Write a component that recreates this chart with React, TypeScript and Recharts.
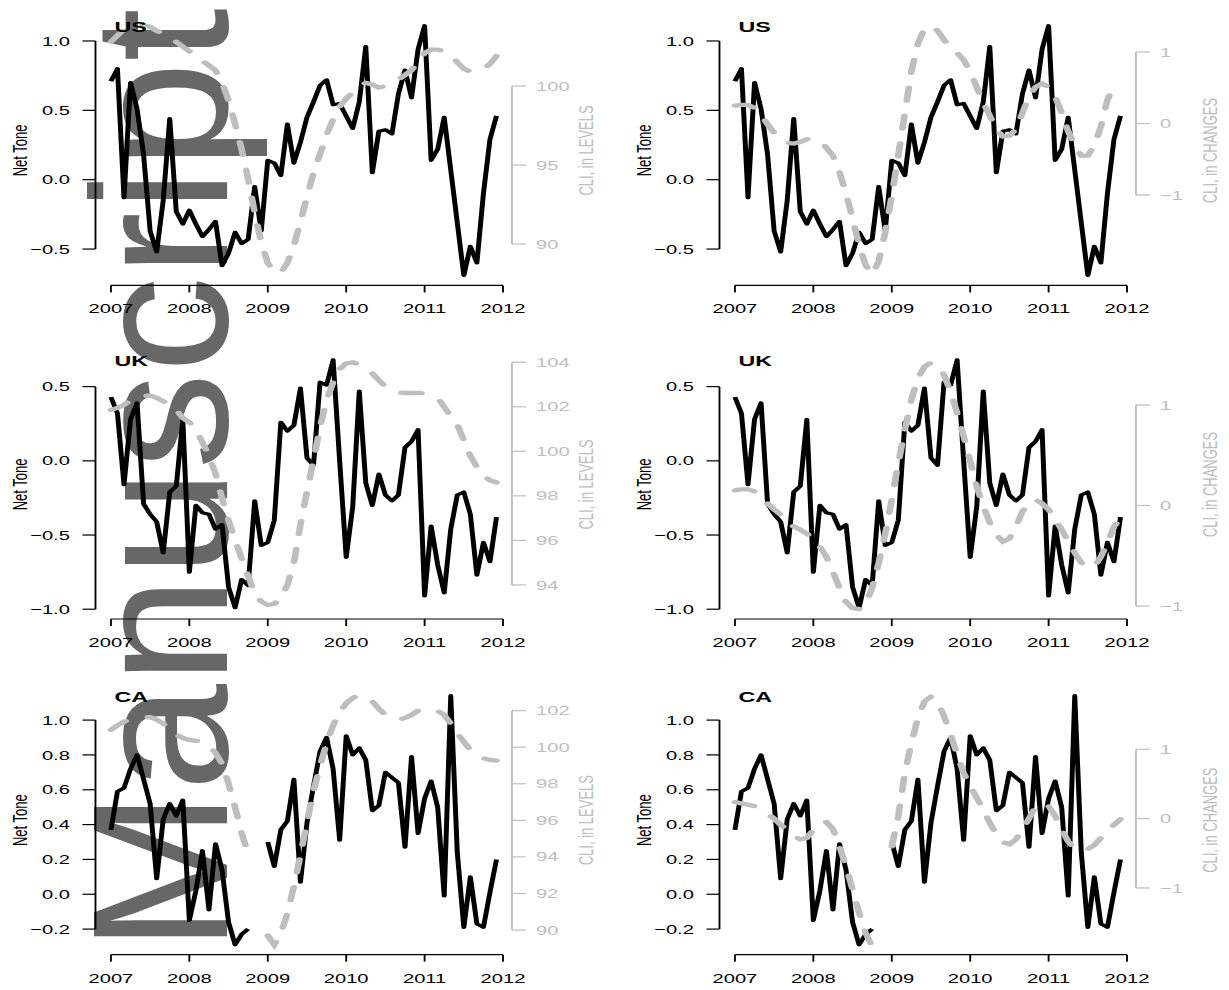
import React from 'react';
import { ComposedChart, Line, XAxis, YAxis, ReferenceLine } from 'recharts';

// ---------- data ----------
const START_YEAR = 2007;
const MONTH_COUNT = 60;
const TIME = Array.from({ length: MONTH_COUNT }, (_, i) => START_YEAR + i / 12);
const YEAR_TICKS = [2007, 2008, 2009, 2010, 2011, 2012];

const US_TONE = [
  0.71, 0.80, -0.13, 0.70, 0.51, 0.18, -0.37, -0.52, -0.15, 0.44,
  -0.23, -0.32, -0.22, -0.32, -0.41, -0.36, -0.30, -0.62, -0.53, -0.38,
  -0.46, -0.43, -0.05, -0.37, 0.14, 0.12, 0.03, 0.40, 0.12, 0.27,
  0.45, 0.56, 0.68, 0.72, 0.54, 0.55, 0.46, 0.37, 0.56, 0.96,
  0.05, 0.35, 0.36, 0.33, 0.62, 0.79, 0.59, 0.94, 1.11, 0.14,
  0.22, 0.45, 0.07, -0.31, -0.69, -0.48, -0.60, -0.10, 0.29, 0.46,
];
const UK_TONE = [
  0.43, 0.32, -0.16, 0.28, 0.39, -0.29, -0.36, -0.41, -0.62, -0.21,
  -0.17, 0.28, -0.75, -0.30, -0.35, -0.36, -0.46, -0.43, -0.85, -0.99,
  -0.80, -0.84, -0.27, -0.57, -0.55, -0.40, 0.26, 0.20, 0.24, 0.49,
  0.02, -0.03, 0.53, 0.51, 0.68, 0.00, -0.65, -0.31, 0.47, -0.15,
  -0.30, -0.09, -0.23, -0.27, -0.23, 0.09, 0.13, 0.21, -0.91, -0.44,
  -0.70, -0.89, -0.46, -0.23, -0.21, -0.36, -0.77, -0.55, -0.68, -0.38,
];
const CA_TONE = [
  0.37, 0.59, 0.61, 0.72, 0.80, 0.66, 0.52, 0.09, 0.43, 0.52,
  0.45, 0.54, -0.15, 0.02, 0.25, -0.09, 0.29, 0.14, -0.16, -0.29,
  -0.23, -0.20, null, null, 0.30, 0.16, 0.37, 0.42, 0.66, 0.07,
  0.41, 0.62, 0.82, 0.90, 0.72, 0.31, 0.91, 0.80, 0.84, 0.77,
  0.48, 0.51, 0.70, 0.67, 0.64, 0.27, 0.79, 0.35, 0.55, 0.65,
  0.50, -0.01, 1.14, 0.24, -0.19, 0.10, -0.17, -0.19, 0.01, 0.20,
];

const US_LEVEL = [
  102.8, 103.2, 103.6, 103.8, 103.85, 103.85, 103.75, 103.5, 103.3, 103.1,
  102.8, 102.5, 102.2, 102.0, 101.6, 101.3, 101.0, 100.2, 99.1, 97.6,
  96.0, 94.1, 92.0, 90.1, 88.8, 88.2, 88.2, 88.8, 89.9, 91.4,
  93.0, 94.5, 95.7, 96.9, 97.9, 98.7, 99.2, 99.6, 100.0, 100.2,
  100.1, 99.9, 100.0, 100.2, 100.4, 100.7, 101.0, 101.5, 102.1, 102.3,
  102.3, 102.2, 102.0, 101.5, 101.1, 100.9, 100.9, 101.1, 101.4, 101.9,
];
const UK_LEVEL = [
  101.86, 101.95, 102.08, 102.3, 102.45, 102.5, 102.5, 102.4, 102.25, 102.1,
  101.86, 101.5, 101.3, 101.0, 100.4, 99.8, 99.0, 97.9, 96.9, 96.0,
  95.2, 94.4, 93.6, 93.25, 93.1, 93.15, 93.4, 94.0, 95.0, 96.7,
  98.2, 99.6, 101.1, 102.3, 103.1, 103.7, 103.95, 104.0, 103.9, 103.7,
  103.5, 103.2, 102.9, 102.7, 102.64, 102.62, 102.62, 102.62, 102.6, 102.5,
  102.4, 102.0, 101.56, 101.2, 100.5, 99.8, 99.3, 98.9, 98.7, 98.6,
];
const CA_LEVEL = [
  100.95, 101.2, 101.4, 101.5, 101.6, 101.64, 101.64, 101.5, 101.3, 101.0,
  100.7, 100.5, 100.4, 100.35, 100.3, 100.07, 99.7, 99.1, 98.0, 96.7,
  95.3, 94.2, null, null, 89.7, 89.2, 89.8, 90.9, 92.4, 94.1,
  95.9, 97.6, 99.0, 100.2, 101.2, 101.9, 102.4, 102.7, 102.85, 102.76,
  102.5, 102.1, 101.76, 101.55, 101.5, 101.6, 101.76, 102.0, 102.1, 102.1,
  102.0, 101.76, 101.3, 100.76, 100.3, 99.85, 99.6, 99.4, 99.3, 99.27,
];

const US_CHANGE = [
  0.25, 0.26, 0.26, 0.22, 0.12, -0.01, -0.13, -0.22, -0.27, -0.28,
  -0.26, -0.22, -0.21, -0.24, -0.34, -0.45, -0.68, -0.98, -1.33, -1.70,
  -1.98, -2.11, -1.93, -1.52, -1.01, -0.45, 0.15, 0.73, 1.12, 1.33,
  1.37, 1.30, 1.17, 1.07, 0.99, 0.89, 0.73, 0.51, 0.29, 0.11,
  -0.08, -0.18, -0.17, -0.08, 0.15, 0.38, 0.51, 0.56, 0.51, 0.38,
  0.15, -0.11, -0.31, -0.45, -0.45, -0.31, -0.04, 0.33, 0.54, null,
];
const UK_CHANGE = [
  0.15, 0.16, 0.16, 0.14, 0.09, 0.02, -0.04, -0.09, -0.16, -0.21,
  -0.24, -0.28, -0.33, -0.41, -0.51, -0.66, -0.82, -0.96, -1.02, -1.03,
  -0.98, -0.82, -0.57, -0.28, 0.06, 0.42, 0.75, 1.05, 1.27, 1.38,
  1.42, 1.40, 1.30, 1.13, 0.92, 0.69, 0.44, 0.19, -0.01, -0.17,
  -0.29, -0.36, -0.33, -0.21, -0.06, 0.03, 0.06, 0.02, -0.04, -0.14,
  -0.24, -0.36, -0.47, -0.57, -0.62, -0.61, -0.51, -0.37, -0.21, -0.13,
];
const CA_CHANGE = [
  0.24, 0.22, 0.20, 0.18, 0.13, 0.07, 0.00, -0.09, -0.16, -0.25,
  -0.30, -0.28, -0.16, -0.06, -0.05, -0.15, -0.40, -0.69, -1.02, -1.36,
  -1.65, -1.84, null, null, -0.40, 0.03, 0.66, 1.09, 1.45, 1.69,
  1.76, 1.68, 1.48, 1.21, 0.92, 0.66, 0.47, 0.30, 0.13, -0.06,
  -0.23, -0.34, -0.37, -0.30, -0.16, 0.00, 0.18, 0.22, 0.18, 0.04,
  -0.16, -0.33, -0.44, -0.47, -0.44, -0.38, -0.28, -0.17, -0.09, -0.01,
];

const US_TONE_TICKS = [-0.5, 0, 0.5, 1.0];
const UK_TONE_TICKS = [-1.0, -0.5, 0, 0.5];
const CA_TONE_TICKS = [-0.2, 0, 0.2, 0.4, 0.6, 0.8, 1.0];
const US_LEVEL_TICKS = [90, 95, 100];
const UK_LEVEL_TICKS = [94, 96, 98, 100, 102, 104];
const CA_LEVEL_TICKS = [90, 92, 94, 96, 98, 100, 102];
const CHANGE_TICKS = [-1, 0, 1];

// ---------- layout / style ----------
const FONT = '"Liberation Sans", Arial, Helvetica, sans-serif';
const STRETCH = 1.55;
const PANEL_W = 396;
const PANEL_H = 330;
const PLOT_LEFT = 61.6;
const PLOT_W = 268.7;
const RIGHT_W = PANEL_W - PLOT_LEFT - PLOT_W;
const PLOT_RIGHT = PLOT_LEFT + PLOT_W;
const XAXIS_H = 30;
const X_DOMAIN: [number, number] = [2006.803, 2012.114];
const COL_LEFT = [0, 624.3];
const ROW_GEOM = [
  { top: 15.6, bottom: 285.4 },
  { top: 20, bottom: 289 },
  { top: 25.6, bottom: 294.7 },
];
const GREY = '#bebebe';

const fmtTone = (v: number) => v.toFixed(1).replace('-', '\u2212');
const fmtCli = (v: number) => String(v).replace('-', '\u2212');

type PanelDef = {
  row: number;
  col: number;
  title: string;
  tone: (number | null)[];
  toneDomain: [number, number];
  toneTicks: number[];
  cli: (number | null)[];
  cliDomain: [number, number];
  cliTicks: number[];
  cliLabel: string;
};

const PANELS: PanelDef[] = [
  { row: 0, col: 0, title: 'US', tone: US_TONE, toneDomain: [-0.762, 1.183], toneTicks: US_TONE_TICKS,
    cli: US_LEVEL, cliDomain: [87.38, 104.46], cliTicks: US_LEVEL_TICKS, cliLabel: 'CLI, in LEVELS' },
  { row: 0, col: 1, title: 'US', tone: US_TONE, toneDomain: [-0.762, 1.183], toneTicks: US_TONE_TICKS,
    cli: US_CHANGE, cliDomain: [-2.264, 1.51], cliTicks: CHANGE_TICKS, cliLabel: 'CLI, in CHANGES' },
  { row: 1, col: 0, title: 'UK', tone: UK_TONE, toneDomain: [-1.066, 0.747], toneTicks: UK_TONE_TICKS,
    cli: UK_LEVEL, cliDomain: [92.47, 104.55], cliTicks: UK_LEVEL_TICKS, cliLabel: 'CLI, in LEVELS' },
  { row: 1, col: 1, title: 'UK', tone: UK_TONE, toneDomain: [-1.066, 0.747], toneTicks: UK_TONE_TICKS,
    cli: UK_CHANGE, cliDomain: [-1.129, 1.547], cliTicks: CHANGE_TICKS, cliLabel: 'CLI, in CHANGES' },
  { row: 2, col: 0, title: 'CA', tone: CA_TONE, toneDomain: [-0.347, 1.198], toneTicks: CA_TONE_TICKS,
    cli: CA_LEVEL, cliDomain: [88.65, 103.37], cliTicks: CA_LEVEL_TICKS, cliLabel: 'CLI, in LEVELS' },
  { row: 2, col: 1, title: 'CA', tone: CA_TONE, toneDomain: [-0.347, 1.198], toneTicks: CA_TONE_TICKS,
    cli: CA_CHANGE, cliDomain: [-1.962, 1.918], cliTicks: CHANGE_TICKS, cliLabel: 'CLI, in CHANGES' },
];

function Panel({ p }: { p: PanelDef }) {
  const g = ROW_GEOM[p.row];
  const data = TIME.map((t, i) => ({ t, nt: p.tone[i], cli: p.cli[i] }));
  const midY = (g.top + g.bottom) / 2;
  const nt0 = p.toneTicks[0];
  const nt1 = p.toneTicks[p.toneTicks.length - 1];
  const c0 = p.cliTicks[0];
  const c1 = p.cliTicks[p.cliTicks.length - 1];

  return (
    <div
      style={{
        position: 'absolute',
        left: COL_LEFT[p.col],
        top: p.row * PANEL_H,
        width: PANEL_W,
        height: PANEL_H,
        transform: `scaleX(${STRETCH})`,
        transformOrigin: '0 0',
      }}
    >
      <ComposedChart
        width={PANEL_W}
        height={PANEL_H}
        data={data}
        margin={{ top: g.top, right: 0, bottom: PANEL_H - g.bottom - XAXIS_H, left: 0 }}
      >
        <XAxis
          dataKey="t"
          type="number"
          domain={X_DOMAIN}
          ticks={YEAR_TICKS}
          allowDataOverflow
          interval={0}
          height={XAXIS_H}
          tickSize={7}
          tickMargin={0}
          axisLine={false}
          tickLine={{ stroke: '#000', strokeWidth: 1.2 }}
          tick={(tp: any) => (
            <text x={tp.x} y={g.bottom + 27.9} textAnchor="middle" fontSize={13} fontFamily={FONT} fill="#000">
              {tp.payload.value}
            </text>
          )}
          label={() => (
            <text x={PLOT_LEFT + 12.3} y={g.top + 16} fontSize={15} fontWeight="bold" fontFamily={FONT} fill="#000">
              {p.title}
            </text>
          )}
        />
        <YAxis
          yAxisId="nt"
          orientation="left"
          width={PLOT_LEFT}
          domain={p.toneDomain}
          ticks={p.toneTicks}
          allowDataOverflow
          interval={0}
          tickSize={8.4}
          tickMargin={0}
          axisLine={false}
          tickLine={{ stroke: '#000', strokeWidth: 1.2 }}
          tick={(tp: any) => (
            <text x={PLOT_LEFT - 16.5} y={tp.y + 4.6} textAnchor="end" fontSize={13} fontFamily={FONT} fill="#000">
              {fmtTone(tp.payload.value)}
            </text>
          )}
          label={() => (
            <text
              x={17.7}
              y={midY}
              transform={`rotate(-90, 17.7, ${midY})`}
              textAnchor="middle"
              fontSize={13}
              fontFamily={FONT}
              fill="#000"
            >
              Net Tone
            </text>
          )}
        />
        <YAxis
          yAxisId="cli"
          orientation="right"
          width={RIGHT_W}
          domain={p.cliDomain}
          ticks={p.cliTicks}
          allowDataOverflow
          interval={0}
          tickSize={9}
          tickMargin={0}
          axisLine={false}
          tickLine={{ stroke: GREY, strokeWidth: 1.2 }}
          tick={(tp: any) => (
            <text x={PLOT_RIGHT + 15.5} y={tp.y + 4.6} textAnchor="start" fontSize={13} fontFamily={FONT} fill={GREY}>
              {fmtCli(tp.payload.value)}
            </text>
          )}
          label={() => (
            <text
              x={PLOT_RIGHT + 52.5}
              y={midY}
              transform={`rotate(-90, ${PLOT_RIGHT + 52.5}, ${midY})`}
              textAnchor="middle"
              fontSize={13}
              fontFamily={FONT}
              fill={GREY}
            >
              {p.cliLabel}
            </text>
          )}
        />
        <ReferenceLine
          yAxisId="nt"
          segment={[{ x: X_DOMAIN[0], y: nt0 }, { x: X_DOMAIN[0], y: nt1 }]}
          stroke="#000"
          strokeWidth={1.2}
          ifOverflow="visible"
        />
        <ReferenceLine
          yAxisId="nt"
          segment={[{ x: YEAR_TICKS[0], y: p.toneDomain[0] }, { x: YEAR_TICKS[YEAR_TICKS.length - 1], y: p.toneDomain[0] }]}
          stroke="#000"
          strokeWidth={1.2}
          ifOverflow="visible"
        />
        <ReferenceLine
          yAxisId="cli"
          segment={[{ x: X_DOMAIN[1], y: c0 }, { x: X_DOMAIN[1], y: c1 }]}
          stroke={GREY}
          strokeWidth={1.2}
          ifOverflow="visible"
        />
        <Line
          yAxisId="nt"
          type="linear"
          dataKey="nt"
          stroke="#000"
          strokeWidth={3.2}
          strokeLinejoin="round"
          dot={false}
          activeDot={false}
          isAnimationActive={false}
        />
        <Line
          yAxisId="cli"
          type="linear"
          dataKey="cli"
          stroke={GREY}
          strokeWidth={4.3}
          strokeDasharray="13 15"
          strokeLinecap="round"
          dot={false}
          activeDot={false}
          isAnimationActive={false}
        />
      </ComposedChart>
    </div>
  );
}

export default function App() {
  return (
    <div
      style={{
        position: 'absolute',
        left: 0,
        top: 0,
        width: 1229,
        height: 990,
        overflow: 'hidden',
        background: '#fff',
      }}
    >
      <svg width={1229} height={990} style={{ position: 'absolute', left: 0, top: 0 }}>
        <text
          x={227}
          y={952}
          transform="rotate(-90, 227, 952)"
          fontSize={193}
          fontFamily={FONT}
          fill="#676767"
        >
          Manuscript
        </text>
      </svg>
      {PANELS.map((p, i) => (
        <Panel key={i} p={p} />
      ))}
    </div>
  );
}
